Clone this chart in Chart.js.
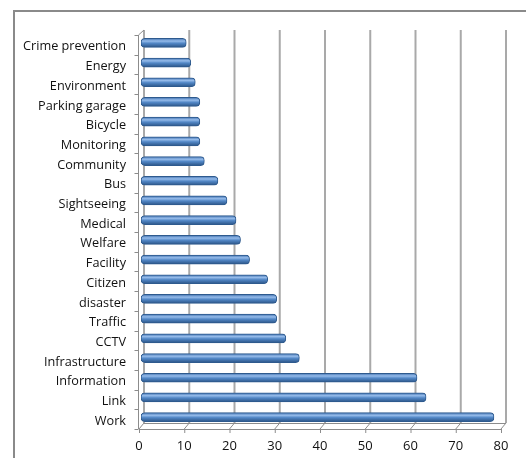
<!DOCTYPE html>
<html>
<head>
<meta charset="utf-8">
<script src="https://cdn.jsdelivr.net/npm/chart.js@4/dist/chart.umd.min.js"></script>
<style>
  html, body { margin: 0; padding: 0; background: #fff; }
  #wrap { width: 526px; height: 458px; position: relative; }
</style>
</head>
<body>
<div id="wrap"><canvas id="c" width="526" height="458"></canvas></div>
<script>
// Topic categories, listed top to bottom
const categories = [
  'Crime prevention', 'Energy', 'Environment', 'Parking garage', 'Bicycle',
  'Monitoring', 'Community', 'Bus', 'Sightseeing', 'Medical', 'Welfare',
  'Facility', 'Citizen', 'disaster', 'Traffic', 'CCTV', 'Infrastructure',
  'Information', 'Link', 'Work'
];
// Count for each category
const counts = [10, 11, 12, 13, 13, 13, 14, 17, 19, 21, 22, 24, 28, 30, 30, 32, 35, 61, 63, 78];
// Value axis ticks
const tickValues = [0, 10, 20, 30, 40, 50, 60, 70, 80];

const FONT = '"Open Sans", "Noto Sans", sans-serif';

// Cylinder-like shading across each bar's thickness
function barFill(context) {
  const chart = context.chart;
  const yScale = chart.scales && chart.scales.y;
  if (!chart.chartArea || !yScale) return '#4a7ebb';
  const yc = yScale.getPixelForValue(context.dataIndex);
  const g = chart.ctx.createLinearGradient(0, yc - 4.5, 0, yc + 4.5);
  g.addColorStop(0, '#3f70ae');
  g.addColorStop(0.3, '#95bbea');
  g.addColorStop(0.55, '#5287c6');
  g.addColorStop(1, '#2b5486');
  return g;
}

// Outer frame, back-wall gridlines, floor and left wall of the 3-D box
const box3d = {
  id: 'box3d',
  beforeDraw(chart) {
    const ctx = chart.ctx;
    ctx.save();
    ctx.strokeStyle = '#8a8a8a';
    ctx.lineWidth = 2;
    ctx.beginPath();
    ctx.moveTo(14, 458);
    ctx.lineTo(14, 11);
    ctx.lineTo(526, 11);
    ctx.stroke();
    ctx.restore();
  },
  beforeDatasetsDraw(chart) {
    const { ctx, chartArea: a, scales: { x, y } } = chart;
    const backTop = a.top - 3, backBottom = a.bottom - 4;
    const frontBottom = a.bottom + 2;
    const bx = v => x.getPixelForValue(v) + 3;
    const fx = v => x.getPixelForValue(v) - 2;
    ctx.save();

    // back-wall gridlines
    ctx.strokeStyle = '#a9a9a9';
    ctx.lineWidth = 2;
    tickValues.forEach(v => {
      ctx.beginPath();
      ctx.moveTo(bx(v), backTop);
      ctx.lineTo(bx(v), backBottom);
      ctx.stroke();
    });

    // floor edges, diagonals and tick marks
    ctx.strokeStyle = '#8c8c8c';
    ctx.lineWidth = 1;
    ctx.beginPath();
    ctx.moveTo(bx(0), backBottom + 0.5);
    ctx.lineTo(bx(80), backBottom + 0.5);
    ctx.moveTo(fx(0), frontBottom + 0.5);
    ctx.lineTo(fx(80), frontBottom + 0.5);
    tickValues.forEach(v => {
      ctx.moveTo(bx(v), backBottom);
      ctx.lineTo(fx(v), frontBottom);
      ctx.moveTo(fx(v) + 0.5, frontBottom);
      ctx.lineTo(fx(v) + 0.5, frontBottom + 4);
    });

    // left wall front edge and top diagonal
    const leftX = fx(0) - 0.5;
    ctx.moveTo(leftX, frontBottom);
    ctx.lineTo(leftX, a.top + 2);
    ctx.lineTo(bx(0), backTop);

    // category boundary ticks
    const band = (a.bottom - a.top) / categories.length;
    for (let i = 0; i <= categories.length; i++) {
      const ty = Math.round(a.top + 2 + i * band) + 0.5;
      ctx.moveTo(leftX - 4, ty);
      ctx.lineTo(leftX, ty);
    }
    ctx.stroke();
    ctx.restore();
  }
};

new Chart(document.getElementById('c'), {
  type: 'bar',
  data: {
    labels: categories,
    datasets: [{
      data: counts,
      backgroundColor: barFill,
      borderColor: '#2e5a8e',
      borderWidth: 1,
      borderRadius: 4,
      borderSkipped: false,
      barThickness: 9
    }]
  },
  options: {
    indexAxis: 'y',
    responsive: false,
    animation: false,
    events: [],
    layout: { padding: { left: 14, right: 23, top: 33, bottom: 0 } },
    plugins: { legend: { display: false }, tooltip: { enabled: false } },
    scales: {
      x: {
        min: 0, max: 80,
        afterFit: s => { s.height = 31; },
        afterBuildTicks: s => { s.ticks = tickValues.map(v => ({ value: v })); },
        grid: { display: false, drawTicks: false },
        border: { display: false },
        ticks: {
          padding: 11,
          labelOffset: -2,
          color: '#111',
          font: { family: FONT, size: 13 }
        }
      },
      y: {
        afterFit: s => { s.width = 127; },
        grid: { display: false, drawTicks: false },
        border: { display: false },
        ticks: {
          padding: 15,
          labelOffset: 4,
          color: '#111',
          font: { family: FONT, size: 12.7 }
        }
      }
    }
  },
  plugins: [box3d]
});
</script>
</body>
</html>
